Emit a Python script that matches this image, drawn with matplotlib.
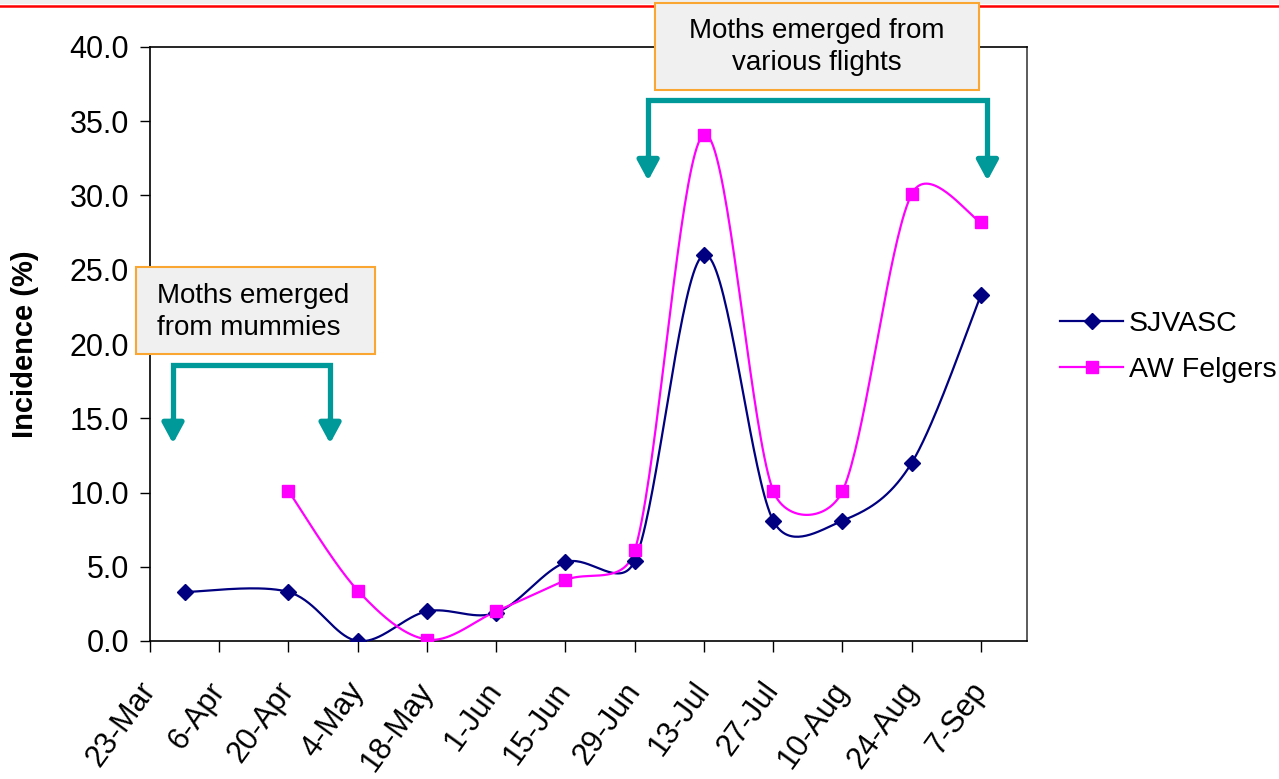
import numpy as np
import pandas as pd
import matplotlib
matplotlib.use("Agg")
import matplotlib.pyplot as plt
from matplotlib.patches import Rectangle
from matplotlib.lines import Line2D

plt.rcParams['font.family'] = ['Liberation Sans', 'DejaVu Sans']

# ---- data ----
START = "2004-03-23"
tick_labels = ["23-Mar", "6-Apr", "20-Apr", "4-May", "18-May", "1-Jun", "15-Jun",
               "29-Jun", "13-Jul", "27-Jul", "10-Aug", "24-Aug", "7-Sep"]

sjvasc_dates = ["2004-03-30", "2004-04-20", "2004-05-04", "2004-05-18", "2004-06-01",
                "2004-06-15", "2004-06-29", "2004-07-13", "2004-07-27", "2004-08-10",
                "2004-08-24", "2004-09-07"]
sjvasc_vals = [3.3, 3.3, 0.0, 2.0, 1.9, 5.3, 5.4, 26.0, 8.1, 8.1, 12.0, 23.3]

felgers_dates = ["2004-04-20", "2004-05-04", "2004-05-18", "2004-06-01", "2004-06-15",
                 "2004-06-29", "2004-07-13", "2004-07-27", "2004-08-10", "2004-08-24",
                 "2004-09-07"]
felgers_vals = [10.1, 3.4, 0.1, 2.0, 4.1, 6.1, 34.1, 10.1, 10.1, 30.1, 28.2]

W, H = 1279, 779
XMAX, YMAX = 177.3, 40.0
AX_L, AX_R, AX_T, AX_B = 150, 1027, 47, 641


def days(dates):
    return (pd.to_datetime(dates) - pd.Timestamp(START)).days.to_numpy(dtype=float)


def smooth(x, y, n=40):
    # excel-like smoothed line: bezier, control arms limited to half a segment,
    # worked out in screen pixels
    sx = (AX_R - AX_L) / XMAX
    sy = (AX_B - AX_T) / YMAX
    pts = np.column_stack([np.asarray(x) * sx, np.asarray(y) * sy])
    P = np.vstack([pts[0], pts, pts[-1]])
    out = []
    t = np.linspace(0, 1, n)[:, None]
    for i in range(1, len(P) - 2):
        p0, p1, p2, p3 = P[i - 1], P[i], P[i + 1], P[i + 2]
        d12 = np.linalg.norm(p2 - p1)
        a = (p2 - p0) / 6
        b = (p3 - p1) / 6
        if np.linalg.norm(a) > d12 / 2:
            a = a / np.linalg.norm(a) * d12 / 2
        if np.linalg.norm(b) > d12 / 2:
            b = b / np.linalg.norm(b) * d12 / 2
        c1 = p1 + a
        c2 = p2 - b
        seg = (1 - t)**3 * p1 + 3 * (1 - t)**2 * t * c1 + 3 * (1 - t) * t**2 * c2 + t**3 * p2
        out.append(seg)
    out = np.vstack(out)
    return out[:, 0] / sx, out[:, 1] / sy


def fx(px):
    return px / W


def fy(py):
    return 1 - py / H


fig = plt.figure(figsize=(W / 100, H / 100), dpi=100)
fig.patch.set_facecolor("white")

# top strip + red line
fig.patches.append(Rectangle((0, fy(4)), 1, 4 / H, transform=fig.transFigure,
                             facecolor="#efefef", edgecolor="none", zorder=0))
fig.lines.append(Line2D([0, 1], [fy(5.5), fy(5.5)], transform=fig.transFigure,
                        color="#ff0000", lw=1.8, zorder=1))

ax = fig.add_axes([fx(AX_L), fy(AX_B), fx(AX_R) - fx(AX_L), fy(AX_T) - fy(AX_B)])

navy = "#000080"
magenta = "#ff00ff"
d_ms, s_ms = 8, 9

xs, ys = smooth(days(sjvasc_dates), sjvasc_vals)
ax.plot(xs, ys, color=navy, lw=1.6, zorder=3)
ax.plot(days(sjvasc_dates), sjvasc_vals, ls="none", marker="D", ms=d_ms,
        color=navy, zorder=4)

xf, yf = smooth(days(felgers_dates), felgers_vals)
ax.plot(xf, yf, color=magenta, lw=1.6, zorder=3)
ax.plot(days(felgers_dates), felgers_vals, ls="none", marker="s", ms=s_ms,
        color=magenta, zorder=4)

tick_pos = np.arange(len(tick_labels)) * 14
ax.set_xlim(0, XMAX)
ax.set_ylim(0, YMAX)
ax.set_xticks(tick_pos)
ax.set_xticklabels(tick_labels, rotation=54, ha="right", va="center",
                   rotation_mode="anchor", fontsize=22)
ax.set_yticks(np.arange(0, 40.1, 5))
ax.set_yticklabels(["%.1f" % v for v in np.arange(0, 40.1, 5)], fontsize=22)
ax.tick_params(axis="x", direction="out", length=8, width=1, pad=24, colors="black")
ax.tick_params(axis="y", direction="out", length=7, width=1, pad=8, colors="black")
ax.set_ylabel("Incidence (%)", fontsize=21, fontweight="bold", labelpad=22)

for s in ["left", "bottom", "top"]:
    ax.spines[s].set_color("black")
    ax.spines[s].set_linewidth(1.2)
ax.spines["right"].set_color("#404040")
ax.spines["right"].set_linewidth(1.2)

# brackets with arrows
teal = "#009999"


def bracket(x1, x2, ytop, ytip):
    ax.plot([x1, x1, x2, x2], [ytip + 1.5, ytop, ytop, ytip + 1.5], color=teal, lw=3.8,
            solid_joinstyle="miter", solid_capstyle="butt", clip_on=False, zorder=5)
    for xx in (x1, x2):
        ax.annotate("", xy=(xx, ytip), xytext=(xx, ytip + 1.6),
                    arrowprops=dict(arrowstyle="-|>,head_width=0.65,head_length=1.2",
                                    color=teal, lw=3.8, shrinkA=0, shrinkB=0),
                    annotation_clip=False, zorder=5)


bracket(4.65, 36.4, 18.6, 13.3)
bracket(100.7, 169.3, 36.4, 31.0)

# text boxes
fig.patches.append(Rectangle((fx(136), fy(354)), fx(375) - fx(136), fy(267) - fy(354),
                             transform=fig.transFigure, facecolor="#f0f0f0",
                             edgecolor="#f9a632", lw=1.5, zorder=6))
fig.text(fx(157), fy(312), "Moths emerged\nfrom mummies", fontsize=20,
         ha="left", va="center", linespacing=1.32, zorder=7)

fig.patches.append(Rectangle((fx(655), fy(90)), fx(979) - fx(655), fy(3) - fy(90),
                             transform=fig.transFigure, facecolor="#f0f0f0",
                             edgecolor="#f9a632", lw=1.5, zorder=6))
fig.text(fx(817), fy(47), "Moths emerged from\nvarious flights", fontsize=20,
         ha="center", va="center", linespacing=1.32, zorder=7)

# legend
h1 = Line2D([], [], color=navy, lw=1.6, marker="D", ms=d_ms)
h2 = Line2D([], [], color=magenta, lw=1.6, marker="s", ms=s_ms)
fig.legend([h1, h2], ["SJVASC", "AW Felgers"], loc="center left",
           bbox_to_anchor=(fx(1049), fy(347)), frameon=False, fontsize=20.5,
           handlelength=2.2, handletextpad=0.2, labelspacing=0.72,
           borderaxespad=0, borderpad=0.4)

fig.savefig("out.png", dpi=100)
